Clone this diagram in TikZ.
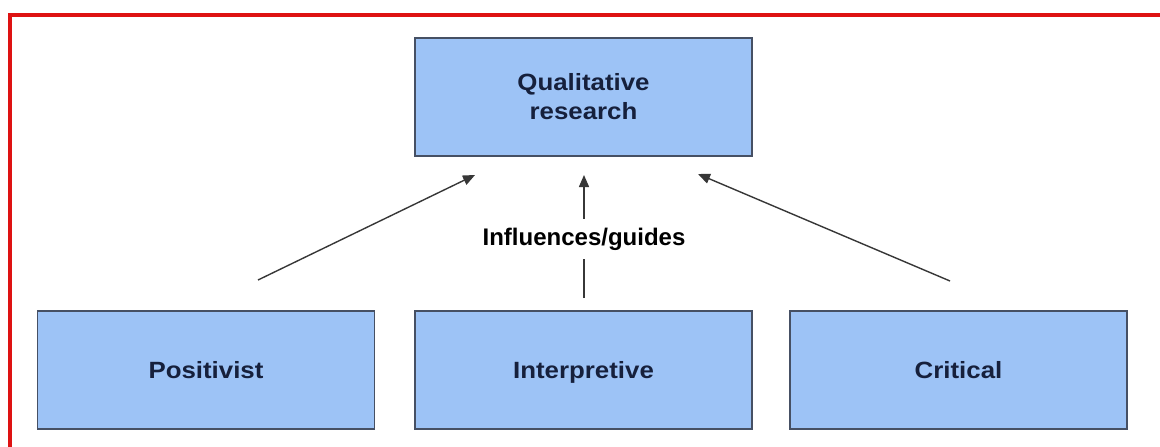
\documentclass[tikz,border=0pt]{standalone}
\usepackage{fontspec}
\setmainfont{Liberation Sans}
\newfontfamily\boxfont[FakeStretch=1.1]{Liberation Sans}
\usetikzlibrary{arrows.meta}
\definecolor{boxfill}{RGB}{157,195,246}
\definecolor{boxline}{RGB}{70,80,100}
\definecolor{boxtext}{RGB}{22,32,60}
\definecolor{arrcol}{RGB}{55,55,55}
\definecolor{frame}{RGB}{222,18,18}
\tikzset{
  box/.style={draw=boxline, line width=1.6pt, fill=boxfill, minimum width=337pt, minimum height=118pt,
    inner sep=0pt, align=center, text=boxtext, font=\boxfont\bfseries\fontsize{23.5}{29}\selectfont},
  onebox/.style={box, text height=17pt, text depth=1pt},
  arr/.style={draw=arrcol, line width=1.4pt, -{Triangle[length=12pt,width=10pt]}},
  lbl/.style={fill=white, inner xsep=2pt, inner ysep=9pt, text=black, font=\bfseries\fontsize{24}{28}\selectfont}
}
\begin{document}
\begin{tikzpicture}[x=1pt,y=-1pt]
\useasboundingbox (0,0) rectangle (1160,447);
\fill[white] (0,0) rectangle (1160,447);
% red frame (left and top edges)
\fill[frame] (8,13) rectangle (12,447);
\fill[frame] (8,13) rectangle (1160,17);
% boxes
\node[box] (qual) at (583.5,97) {Qualitative\\research};
\node[onebox] (pos) at (206,370) {Positivist};
\node[onebox] (int) at (583.5,370) {Interpretive};
\node[onebox] (crit) at (958.5,370) {Critical};
% arrow end points
\coordinate (ps) at (258,280);
\coordinate (pe) at (475,175);
\coordinate (is) at (584,298);
\coordinate (ie) at (584,175);
\coordinate (cs) at (950,281);
\coordinate (ce) at (698,174);
\draw[arr] (ps) -- (pe);
\draw[arr] (cs) -- (ce);
\draw[arr] (is) -- (ie) node[lbl, pos=0.48] (infl) {Influences/guides};
\end{tikzpicture}
\end{document}
